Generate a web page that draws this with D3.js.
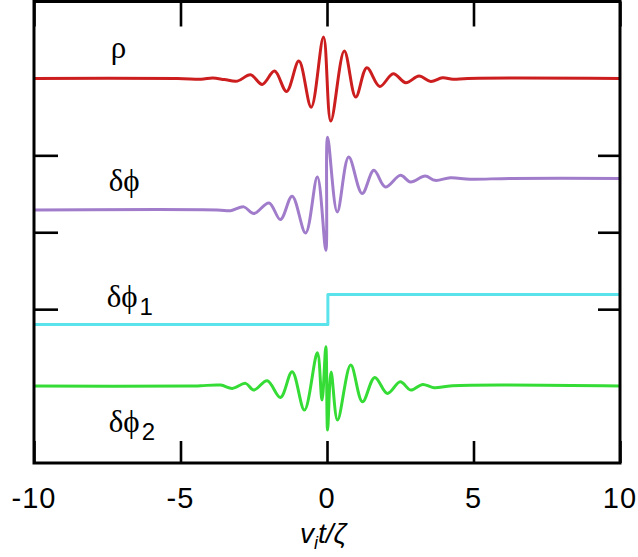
<!DOCTYPE html>
<html>
<head>
<meta charset="utf-8">
<script src="https://cdn.jsdelivr.net/npm/d3@7"></script>
<style>
  body { margin: 0; background: #fff; }
  svg { display: block; }
</style>
</head>
<body>
<div id="chart"></div>
<script>
// time axis ticks (v_i t / zeta)
const xTicks = [-10, -5, 0, 5, 10]
const yTicks = [2, 3, 4]

// each trace: [t, offset value]
const rho = [[-10, 5], [-5.1, 5], [-4.3, 4.99], [-3.9, 5.005], [-3.5, 4.985], [-3.06, 4.965],
  [-2.61, 5.048], [-2.21, 4.922], [-1.79, 5.095], [-1.38, 4.831], [-0.96, 5.225], [-0.54, 4.626],
  [-0.12, 5.54], [0.13, 4.445], [0.59, 5.355], [0.98, 4.757], [1.36, 5.139], [1.8, 4.896],
  [2.26, 5.061], [2.69, 4.944], [3.14, 5.03], [3.54, 4.961], [3.94, 5.009], [4.3, 4.99], [4.8, 5], [10, 5]]

const dphi = [[-10, 3.29], [-3.74, 3.29], [-3.29, 3.28], [-2.84, 3.33], [-2.5, 3.243], [-1.98, 3.381],
  [-1.59, 3.165], [-1.19, 3.468], [-0.73, 2.991], [-0.33, 3.718], [-0.04, 2.766], [0.02, 4.234],
  [0.35, 3.264], [0.74, 3.978], [1.2, 3.503], [1.6, 3.805], [1.99, 3.588], [2.51, 3.74], [2.85, 3.653],
  [3.35, 3.731], [3.69, 3.675], [4.21, 3.708], [4.89, 3.69], [6.26, 3.7], [10, 3.7]]

const dphi1 = [[-10, 1.8], [0.03, 1.8], [0.03, 2.19], [10, 2.19]]

const dphi2 = [[-10, 1], [-4.7, 1], [-4.31, 1.004], [-3.63, 1.013], [-3.23, 0.97], [-2.78, 1.035],
  [-2.5, 0.948], [-2.04, 1.069], [-1.59, 0.853], [-1.19, 1.186], [-0.77, 0.688], [-0.33, 1.432],
  [-0.17, 0.818], [-0.04, 1.513], [0.02, 0.429], [0.14, 1.182], [0.36, 0.558], [0.81, 1.273],
  [1.21, 0.796], [1.63, 1.113], [2.06, 0.905], [2.5, 1.056], [2.86, 0.948], [3.26, 1.022],
  [3.65, 0.978], [4.28, 1.004], [10, 1]]

const seriesNames = ['\u03c1', '\u03b4\u03d5', '\u03b4\u03d5', '\u03b4\u03d5']
const seriesSubs = ['', '', '1', '2']

const margin = { top: 1.5, right: 18, bottom: 94, left: 34 }
const w = 638 - margin.left - margin.right
const h = 557 - margin.top - margin.bottom

const svg = d3.select('#chart').append('svg')
  .attr('width', 638)
  .attr('height', 557)
const g = svg.append('g')
  .attr('transform', 'translate(' + margin.left + ',' + margin.top + ')')

const x = d3.scaleLinear().domain([-10, 10]).range([0, w])
const y = d3.scaleLinear().domain([0, 6]).range([h, 0])

const wave = d3.curveCatmullRom.alpha(0.5)
const traces = [
  { data: rho, color: '#cc1e1e', curve: wave },
  { data: dphi, color: '#a07ccb', curve: wave },
  { data: dphi1, color: '#5ae3ea', curve: d3.curveLinear },
  { data: dphi2, color: '#36dc36', curve: wave }
]

traces.forEach(tr => {
  const line = d3.line().x(d => x(d[0])).y(d => y(d[1])).curve(tr.curve)
  g.append('path')
    .datum(tr.data)
    .attr('fill', 'none')
    .attr('stroke', tr.color)
    .attr('stroke-width', 3)
    .attr('stroke-linejoin', 'round')
    .attr('d', line)
})

// inward ticks on all four sides, labels only at the bottom
const noLabel = () => ''
g.append('g').attr('transform', 'translate(0,' + h + ')')
  .call(d3.axisBottom(x).tickValues(xTicks).tickSize(-22).tickFormat(noLabel))
g.append('g')
  .call(d3.axisTop(x).tickValues(xTicks).tickSize(-25).tickFormat(noLabel))
g.append('g')
  .call(d3.axisLeft(y).tickValues(yTicks).tickSize(-24).tickFormat(noLabel))
g.append('g').attr('transform', 'translate(' + w + ',0)')
  .call(d3.axisRight(y).tickValues(yTicks).tickSize(-22).tickFormat(noLabel))

g.selectAll('.domain').remove()
g.selectAll('.tick line').attr('stroke', '#000').attr('stroke-width', 2.6)

g.append('rect')
  .attr('width', w)
  .attr('height', h)
  .attr('fill', 'none')
  .attr('stroke', '#000')
  .attr('stroke-width', 3)

g.selectAll('.xlab')
  .data(xTicks)
  .join('text')
  .attr('class', 'xlab')
  .attr('x', d => x(d))
  .attr('y', h + 45)
  .attr('text-anchor', 'middle')
  .style('font', '29px "Liberation Sans", Arial, sans-serif')
  .style('letter-spacing', '1px')
  .text(d => d)

// axis title v_i t / zeta
const title = g.append('text')
  .attr('x', x(0) - 27)
  .attr('y', h + 80)
  .style('font', 'italic 28px "Liberation Sans", Arial, sans-serif')
title.append('tspan').text('v')
title.append('tspan').attr('dy', 6).style('font-size', '18px').text('i')
title.append('tspan').attr('dy', -6).text('t/\u03b6')

// trace names, placed by data coordinates
const labelPos = [[-7.38, 5.26], [-7.45, 3.53], [-7.52, 2.03], [-7.45, 0.4]]
labelPos.forEach((p, i) => {
  const t = g.append('text')
    .attr('x', x(p[0]))
    .attr('y', y(p[1]))
    .style('font', '31px "Liberation Serif", "DejaVu Serif", serif')
  t.append('tspan').text(seriesNames[i])
  if (seriesSubs[i]) {
    t.append('tspan')
      .attr('dy', 8)
      .attr('dx', 2)
      .style('font', '24px "Liberation Sans", Arial, sans-serif')
      .text(seriesSubs[i])
  }
})
</script>
</body>
</html>
